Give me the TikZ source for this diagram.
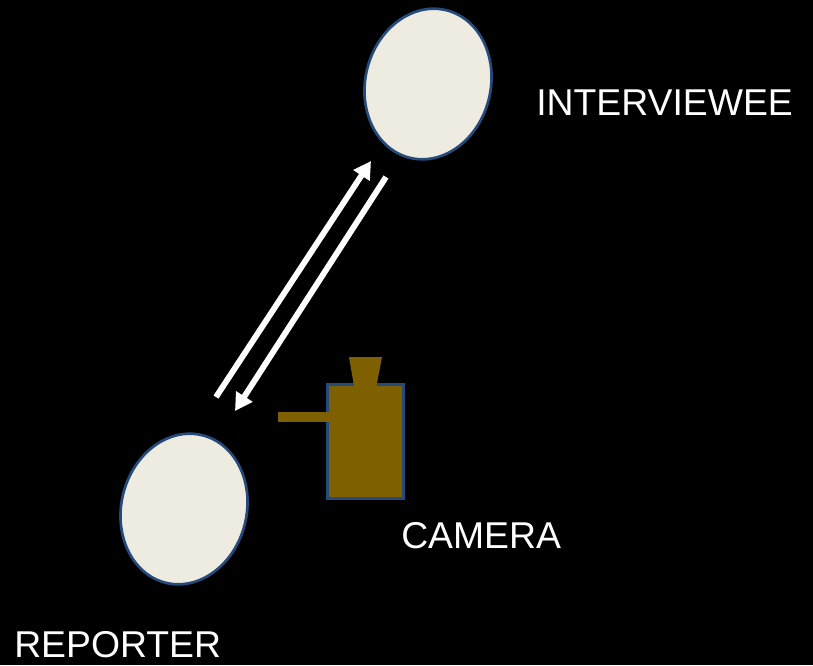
\documentclass[tikz,border=0pt]{standalone}
\usepackage{fontspec}
\setmainfont{Liberation Sans}
\usetikzlibrary{shapes.geometric,arrows.meta}
\definecolor{headfill}{HTML}{EEECE1}
\definecolor{navy}{HTML}{254A7C}
\definecolor{cam}{HTML}{7F6000}
\tikzset{
  head/.style={ellipse,draw=navy,fill=headfill,line width=2pt,inner sep=0pt,minimum width=94pt,minimum height=114pt,rotate=-14},
  lbl/.style={text=white,font=\fontsize{28}{31}\selectfont,inner sep=0pt},
  arr/.style={draw=white,line width=4.4pt,-{Triangle[length=13pt,width=14pt]}},
}
\begin{document}
\begin{tikzpicture}[x=0.75pt,y=-0.75pt]
\fill[black] (0,0) rectangle (813,665);
\useasboundingbox (0,0) rectangle (813,665);
\node[head] (interviewee) at (428,84) {};
\node[head] (reporter) at (184,509) {};
\node[draw=navy,fill=cam,line width=2.2pt,minimum width=56.5pt,minimum height=85.5pt,inner sep=0pt] (body) at (365.5,441.5) {};
\fill[cam] (349,357) -- (382,357) -- (376.5,386) -- (354,386) -- cycle;
\fill[cam] (278,412) rectangle (330,422);
\coordinate (a1) at (216,397);
\coordinate (a2) at (371,161);
\coordinate (b1) at (386,177);
\coordinate (b2) at (235,411);
\draw[arr] (a1) -- (a2);
\draw[arr] (b1) -- (b2);
\node[lbl,anchor=base west] (l1) at (536,115) {INTERVIEWEE};
\node[lbl,anchor=base west] (l2) at (401,548) {CAMERA};
\node[lbl,anchor=base west] (l3) at (14,657) {REPORTER};
\end{tikzpicture}
\end{document}
